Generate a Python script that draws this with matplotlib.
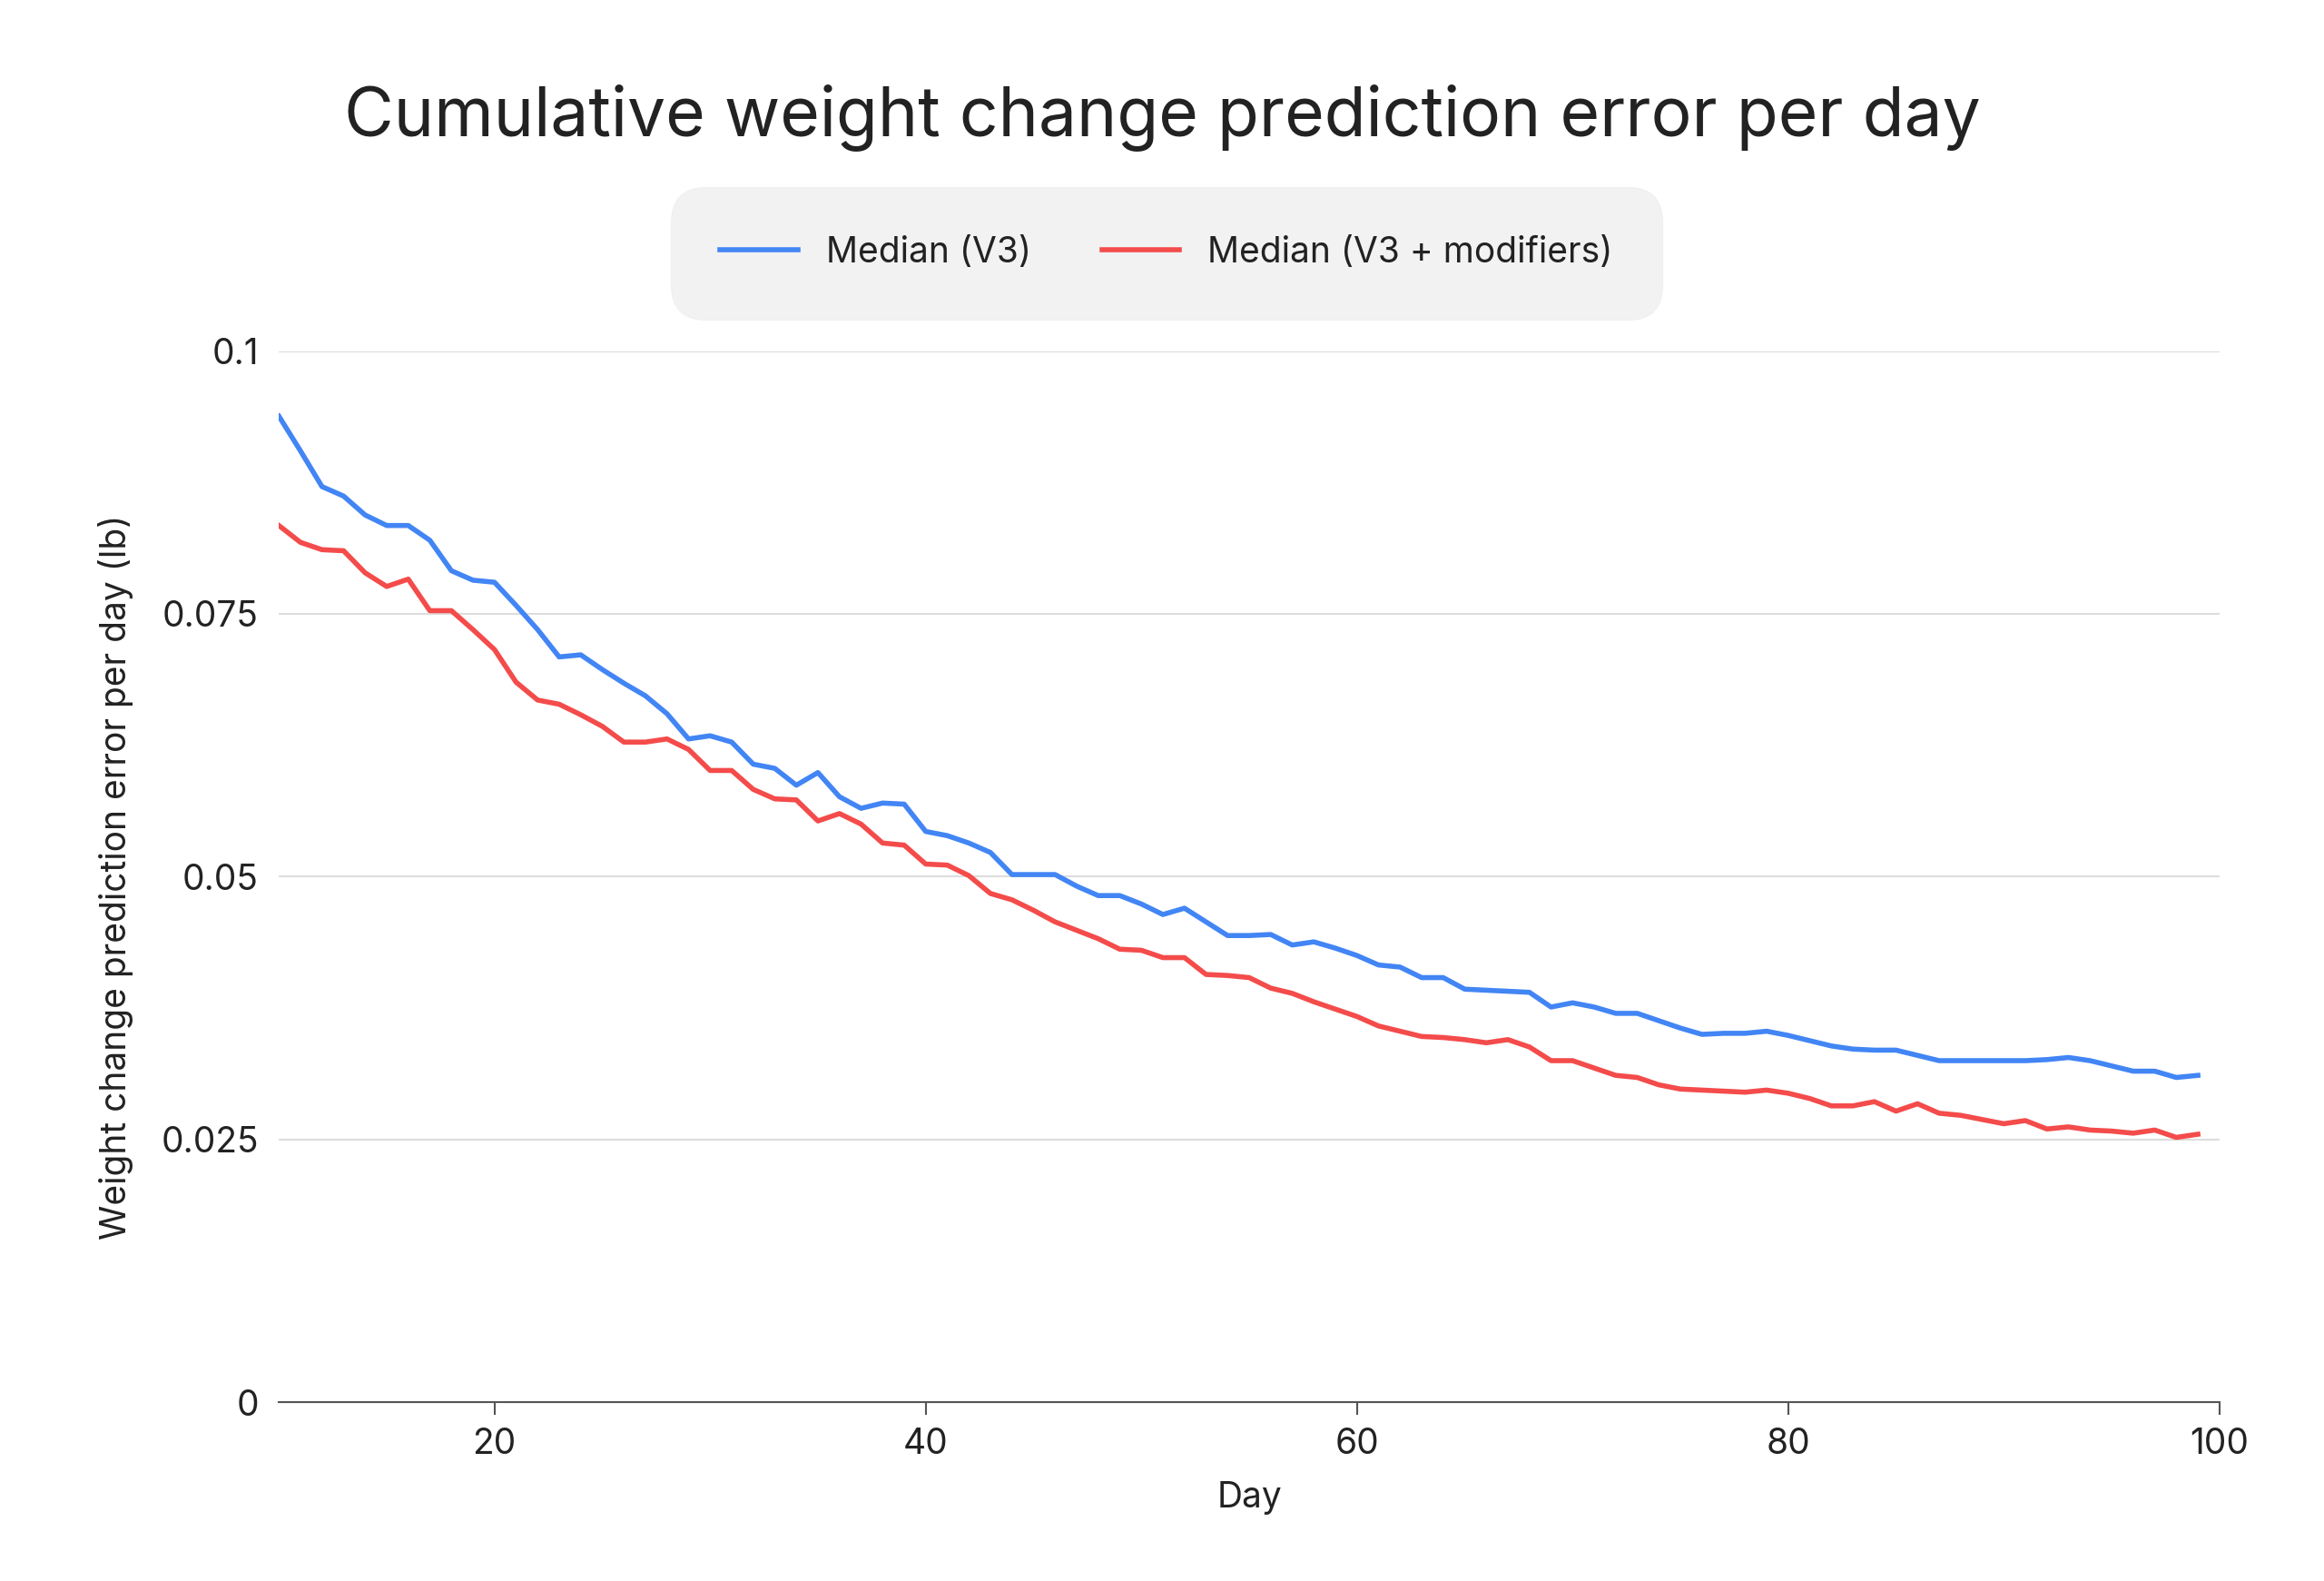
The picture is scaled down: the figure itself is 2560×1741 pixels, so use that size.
import matplotlib
matplotlib.use("Agg")
import matplotlib.pyplot as plt
import numpy as np

days = list(range(10, 100))
v3 = [0.0938,0.0905,0.0871,0.0862,0.0844,0.0834,0.0834,0.0820,0.0791,0.0782,
      0.0780,0.0758,0.0735,0.0709,0.0711,0.0697,0.0684,0.0672,0.0655,0.0631,
      0.0634,0.0628,0.0607,0.0603,0.0587,0.0599,0.0576,0.0565,0.0570,0.0569,
      0.0543,0.0539,0.0532,0.0523,0.0502,0.0502,0.0502,0.0491,0.0482,0.0482,
      0.0474,0.0464,0.0470,0.0457,0.0444,0.0444,0.0445,0.0435,0.0438,0.0432,
      0.0425,0.0416,0.0414,0.0404,0.0404,0.0393,0.0392,0.0391,0.0390,0.0376,
      0.0380,0.0376,0.0370,0.0370,0.0363,0.0356,0.0350,0.0351,0.0351,0.0353,
      0.0349,0.0344,0.0339,0.0336,0.0335,0.0335,0.0330,0.0325,0.0325,0.0325,
      0.0325,0.0325,0.0326,0.0328,0.0325,0.0320,0.0315,0.0315,0.0309,0.0311]
v3_mod = [0.0834,0.0818,0.0811,0.0810,0.0789,0.0776,0.0783,0.0753,0.0753,0.0735,
          0.0716,0.0685,0.0668,0.0664,0.0654,0.0643,0.0628,0.0628,0.0631,0.0621,
          0.0601,0.0601,0.0583,0.0574,0.0573,0.0553,0.0560,0.0550,0.0532,0.0530,
          0.0512,0.0511,0.0501,0.0484,0.0478,0.0468,0.0457,0.0449,0.0441,0.0431,
          0.0430,0.0423,0.0423,0.0407,0.0406,0.0404,0.0394,0.0389,0.0381,0.0374,
          0.0367,0.0358,0.0353,0.0348,0.0347,0.0345,0.0342,0.0345,0.0338,0.0325,
          0.0325,0.0318,0.0311,0.0309,0.0302,0.0298,0.0297,0.0296,0.0295,0.0297,
          0.0294,0.0289,0.0282,0.0282,0.0286,0.0277,0.0284,0.0275,0.0273,0.0269,
          0.0265,0.0268,0.0260,0.0262,0.0259,0.0258,0.0256,0.0259,0.0252,0.0255]
yticks = [0, 0.025, 0.05, 0.075, 0.1]
ytick_labels = ["0", "0.025", "0.05", "0.075", "0.1"]
xticks = [20, 40, 60, 80, 100]

plt.rcParams['font.family'] = ['Inter', 'DejaVu Sans']
fig = plt.figure(figsize=(25.6, 17.41), dpi=100)
ax = fig.add_axes([0.12, 0.113, 0.835, 0.665])
ax.plot(days, v3, color='#4285f4', lw=4, label='Median (V3)')
ax.plot(days, v3_mod, color='#f44b4b', lw=4, label='Median (V3 + modifiers)')
ax.set_xlim(10, 100)
ax.set_ylim(0, 0.1)
ax.set_yticks(yticks)
ax.set_yticklabels(ytick_labels)
ax.set_xticks(xticks)
ax.grid(axis='y', color='#dddddd', lw=1.5)
ax.set_axisbelow(True)
for s in ['top', 'right', 'left']:
    ax.spines[s].set_visible(False)
ax.spines['bottom'].set_color('#555555')
ax.spines['bottom'].set_linewidth(1.5)
ax.tick_params(axis='y', length=0, labelsize=28, colors='#222222', pad=16)
ax.tick_params(axis='x', length=10, width=1.5, color='#555555', labelsize=28, labelcolor='#222222', pad=10)
ax.set_xlabel('Day', fontsize=28, color='#222222', labelpad=16)
ax.set_ylabel('Weight change prediction error per day (lb)', fontsize=28, color='#222222', labelpad=22)
fig.suptitle('Cumulative weight change prediction error per day', fontsize=54, color='#222222', y=0.947)
leg = fig.legend(loc='center', bbox_to_anchor=(0.502, 0.84), ncol=2, fontsize=28,
                 frameon=True, fancybox=True, facecolor='#efeff1', edgecolor='#efeff1',
                 borderpad=0.9, handlelength=2.2, columnspacing=2.0, handletextpad=0.8, borderaxespad=0)
leg.get_frame().set_boxstyle('round', pad=0.5, rounding_size=1.0)
for t in leg.get_texts():
    t.set_color('#222222')
fig.savefig('out.png', dpi=100, facecolor='white')
